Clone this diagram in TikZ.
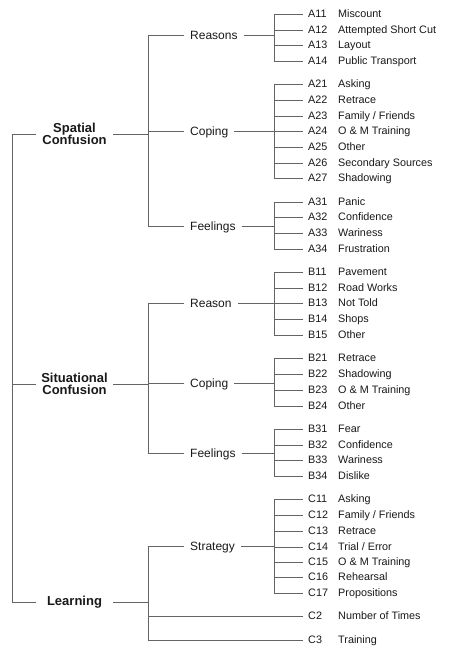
\documentclass[tikz,border=0pt]{standalone}
\usepackage{fontspec}
\setmainfont{Liberation Sans}
\definecolor{drawColor}{RGB}{100,100,100}
\definecolor{textColor}{RGB}{25,25,25}
\tikzset{
  branch/.style={draw=drawColor,line width=0.6pt,line join=miter,line cap=butt},
  codetext/.style={text=textColor,anchor=west,inner xsep=5pt,inner ysep=0pt,font=\fontsize{10.8}{12}\selectfont},
  leaftext/.style={text=textColor,anchor=base west,inner sep=0pt,font=\fontsize{10.8}{12}\selectfont},
  midtext/.style={text=textColor,anchor=west,inner xsep=6pt,inner ysep=0pt,text height=8.6pt,text depth=0pt,font=\fontsize{12}{14}\selectfont},
  toptext/.style={text=textColor,align=center,inner sep=0pt,minimum width=77pt,font=\bfseries\fontsize{13}{12.3}\selectfont}
}
% one leaf: name, y, code, text
\newcommand{\leafitem}[4]{%
  \node[codetext] (#1) at (303,#2) {#3};
  \node[leaftext] (#1t) at (#1.base -| lblcol) {#4};}
\begin{document}
\begin{tikzpicture}[x=1pt,y=-1pt]
\path[use as bounding box,fill=white] (0,0) rectangle (451,658);
\coordinate (lblcol) at (338,0);

% top level
\node[toptext] (spatial) at (74.5,134) {Spatial\\Confusion};
\node[toptext] (situ) at (74.5,384) {Situational\\Confusion};
\node[toptext] (learning) at (74.5,602) {Learning};

% second level
\node[midtext] (reasA) at (184,35) {Reasons};
\node[midtext] (copA) at (184,131) {Coping};
\node[midtext] (feelA) at (184,226) {Feelings};
\node[midtext] (reasB) at (184,303) {Reason};
\node[midtext] (copB) at (184,383) {Coping};
\node[midtext] (feelB) at (184,453) {Feelings};
\node[midtext] (strat) at (184,546) {Strategy};

% leaves
\leafitem{a11}{14}{A11}{Miscount}
\leafitem{a12}{30}{A12}{Attempted Short Cut}
\leafitem{a13}{45}{A13}{Layout}
\leafitem{a14}{61}{A14}{Public Transport}

\leafitem{a21}{84}{A21}{Asking}
\leafitem{a22}{100}{A22}{Retrace}
\leafitem{a23}{116}{A23}{Family / Friends}
\leafitem{a24}{131}{A24}{O \& M Training}
\leafitem{a25}{147}{A25}{Other}
\leafitem{a26}{163}{A26}{Secondary Sources}
\leafitem{a27}{178}{A27}{Shadowing}

\leafitem{a31}{202}{A31}{Panic}
\leafitem{a32}{217}{A32}{Confidence}
\leafitem{a33}{233}{A33}{Wariness}
\leafitem{a34}{249}{A34}{Frustration}

\leafitem{b11}{272}{B11}{Pavement}
\leafitem{b12}{288}{B12}{Road Works}
\leafitem{b13}{303}{B13}{Not Told}
\leafitem{b14}{319}{B14}{Shops}
\leafitem{b15}{335}{B15}{Other}

\leafitem{b21}{358}{B21}{Retrace}
\leafitem{b22}{374}{B22}{Shadowing}
\leafitem{b23}{390}{B23}{O \& M Training}
\leafitem{b24}{406}{B24}{Other}

\leafitem{b31}{429}{B31}{Fear}
\leafitem{b32}{445}{B32}{Confidence}
\leafitem{b33}{460}{B33}{Wariness}
\leafitem{b34}{476}{B34}{Dislike}

\leafitem{c11}{499}{C11}{Asking}
\leafitem{c12}{515}{C12}{Family / Friends}
\leafitem{c13}{531}{C13}{Retrace}
\leafitem{c14}{547}{C14}{Trial / Error}
\leafitem{c15}{562}{C15}{O \& M Training}
\leafitem{c16}{577}{C16}{Rehearsal}
\leafitem{c17}{593}{C17}{Propositions}
\leafitem{c2}{616}{C2}{Number of Times}
\leafitem{c3}{640}{C3}{Training}

% root bracket
\coordinate (root) at (12,134);
\draw[branch] (spatial.west) -- (root) -- (root |- learning.west) -- (learning.west);
\draw[branch] (situ.west) -- (situ.west -| root);

% spatial confusion
\coordinate (sa) at (148,134);
\draw[branch] (spatial.east) -- (sa);
\draw[branch] (reasA.west) -- (reasA.west -| sa) -- (feelA.west -| sa) -- (feelA.west);
\draw[branch] (copA.west) -- (copA.west -| sa);

\coordinate (ra) at (274,35);
\draw[branch] (reasA.east) -- (ra);
\draw[branch] (a11.west) -- (a11.west -| ra) -- (a14.west -| ra) -- (a14.west);
\foreach \n in {a12,a13} \draw[branch] (\n.west) -- (\n.west -| ra);

\coordinate (ca) at (274,131);
\draw[branch] (copA.east) -- (ca);
\draw[branch] (a21.west) -- (a21.west -| ca) -- (a27.west -| ca) -- (a27.west);
\foreach \n in {a22,a23,a24,a25,a26} \draw[branch] (\n.west) -- (\n.west -| ca);

\coordinate (fa) at (274,226);
\draw[branch] (feelA.east) -- (fa);
\draw[branch] (a31.west) -- (a31.west -| fa) -- (a34.west -| fa) -- (a34.west);
\foreach \n in {a32,a33} \draw[branch] (\n.west) -- (\n.west -| fa);

% situational confusion
\coordinate (sb) at (148,384);
\draw[branch] (situ.east) -- (sb);
\draw[branch] (reasB.west) -- (reasB.west -| sb) -- (feelB.west -| sb) -- (feelB.west);
\draw[branch] (copB.west) -- (copB.west -| sb);

\coordinate (rb) at (274,303);
\draw[branch] (reasB.east) -- (rb);
\draw[branch] (b11.west) -- (b11.west -| rb) -- (b15.west -| rb) -- (b15.west);
\foreach \n in {b12,b13,b14} \draw[branch] (\n.west) -- (\n.west -| rb);

\coordinate (cb) at (274,383);
\draw[branch] (copB.east) -- (cb);
\draw[branch] (b21.west) -- (b21.west -| cb) -- (b24.west -| cb) -- (b24.west);
\foreach \n in {b22,b23} \draw[branch] (\n.west) -- (\n.west -| cb);

\coordinate (fb) at (274,453);
\draw[branch] (feelB.east) -- (fb);
\draw[branch] (b31.west) -- (b31.west -| fb) -- (b34.west -| fb) -- (b34.west);
\foreach \n in {b32,b33} \draw[branch] (\n.west) -- (\n.west -| fb);

% learning
\coordinate (la) at (148,602);
\draw[branch] (learning.east) -- (la);
\draw[branch] (strat.west) -- (strat.west -| la) -- (c3.west -| la) -- (c3.west);
\draw[branch] (c2.west) -- (c2.west -| la);

\coordinate (sc) at (274,546);
\draw[branch] (strat.east) -- (sc);
\draw[branch] (c11.west) -- (c11.west -| sc) -- (c17.west -| sc) -- (c17.west);
\foreach \n in {c12,c13,c14,c15,c16} \draw[branch] (\n.west) -- (\n.west -| sc);
\end{tikzpicture}
\end{document}
